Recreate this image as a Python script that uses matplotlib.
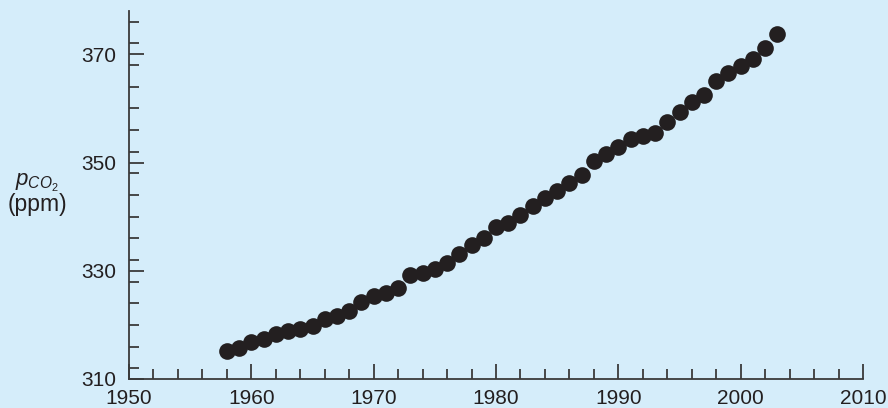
import matplotlib
matplotlib.use("Agg")
import matplotlib.pyplot as plt
from matplotlib.ticker import MultipleLocator

plt.rcParams['font.family'] = ['Liberation Sans', 'DejaVu Sans']
plt.rcParams['mathtext.fontset'] = 'custom'
plt.rcParams['mathtext.rm'] = 'Liberation Sans'
plt.rcParams['mathtext.it'] = 'Liberation Sans:italic'

years = list(range(1958, 2004))
co2_ppm = [315.2, 315.8, 316.8, 317.4, 318.3, 318.9, 319.2, 319.8, 321.1, 321.7,
           322.6, 324.2, 325.3, 325.9, 326.9, 329.2, 329.5, 330.4, 331.4, 333.1,
           334.7, 336.0, 338.0, 338.9, 340.3, 341.9, 343.5, 344.8, 346.2, 347.7,
           350.3, 351.6, 352.9, 354.3, 354.9, 355.5, 357.5, 359.4, 361.1, 362.4,
           365.1, 366.6, 367.8, 369.2, 371.1, 373.8]
x_ticks = [1950, 1960, 1970, 1980, 1990, 2000, 2010]
y_ticks = [310, 330, 350, 370]

BG = '#d5edfa'
INK = '#231f20'
AX = '#3a3a3a'

fig = plt.figure(figsize=(8.88, 4.08), dpi=100, facecolor=BG)
ax = fig.add_axes([129/888, 29/408, 734/888, 368/408], facecolor=BG)

ax.plot(years, co2_ppm, 'o', color=INK, markersize=12, markeredgewidth=0, clip_on=False)

ax.set_xlim(1950, 2010)
ax.set_ylim(310, 378)
ax.set_xticks(x_ticks)
ax.set_yticks(y_ticks)
ax.xaxis.set_minor_locator(MultipleLocator(2))
ax.yaxis.set_minor_locator(MultipleLocator(4))

for s in ['top', 'right']:
    ax.spines[s].set_visible(False)
for s in ['left', 'bottom']:
    ax.spines[s].set_color(AX)
    ax.spines[s].set_linewidth(1.3)

ax.tick_params(axis='both', which='major', direction='in', length=11, width=1.3,
               color=AX, labelsize=15, labelcolor=INK)
ax.tick_params(axis='both', which='minor', direction='in', length=7, width=1.3, color=AX)
ax.tick_params(axis='x', which='major', pad=7)
ax.tick_params(axis='y', which='major', pad=9)

fig.text(37/888, 1 - 183/408, r'$p_{CO_2}$', ha='center', va='center', fontsize=16, color=INK)
fig.text(37/888, 1 - 204/408, '(ppm)', ha='center', va='center', fontsize=16.5, color=INK)

fig.savefig('out.png', dpi=100, facecolor=BG)
